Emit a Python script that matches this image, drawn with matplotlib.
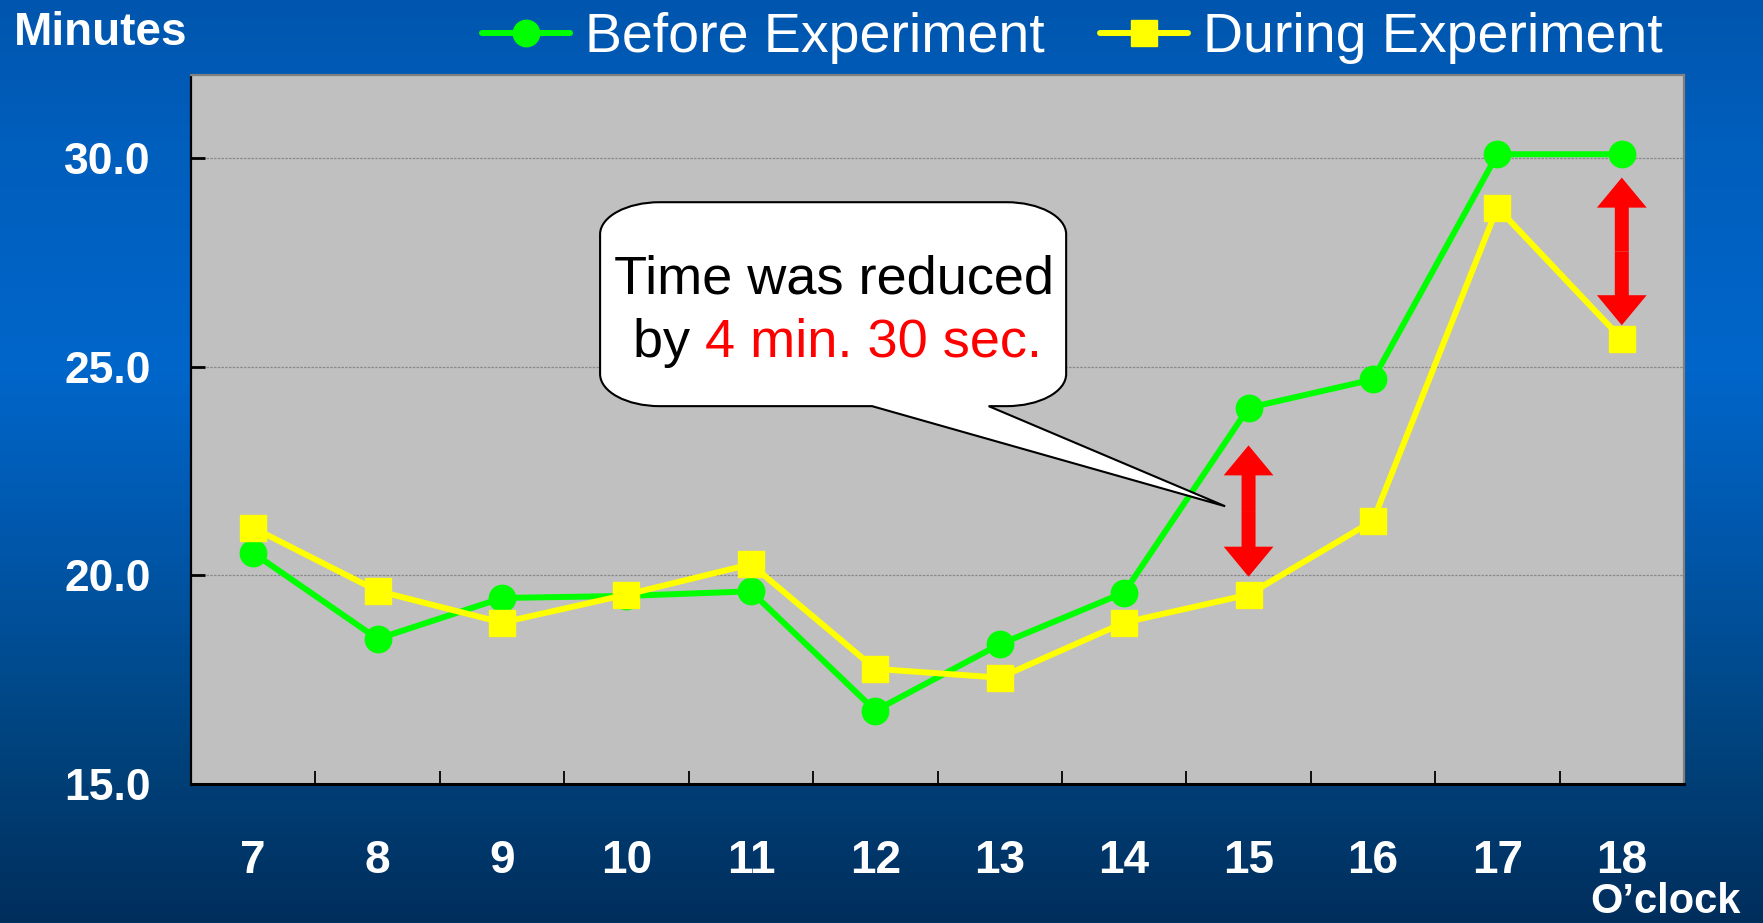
import numpy as np
import matplotlib
matplotlib.use("Agg")
import matplotlib.pyplot as plt
from matplotlib.colors import LinearSegmentedColormap
from matplotlib.path import Path
from matplotlib.patches import PathPatch, FancyArrow

# ---------------- data ----------------
hours = ["7", "8", "9", "10", "11", "12", "13", "14", "15", "16", "17", "18"]
before = [20.54, 18.48, 19.46, 19.51, 19.62, 16.76, 18.35, 19.59, 24.02, 24.70, 30.10, 30.10]
during = [21.14, 19.63, 18.87, 19.54, 20.27, 17.76, 17.55, 18.87, 19.54, 21.31, 28.82, 25.67]
yticks = [15, 20, 25, 30]
ytick_labels = ["15.0", "20.0", "25.0", "30.0"]
legend_labels = ["Before Experiment", "During Experiment"]
# red double arrows: (category index, bottom, top)
gap_arrows = [(8, 19.97, 23.12), (11, 26.0, 29.54)]

FONT = "Liberation Sans"
W, H = 1763, 923
fig = plt.figure(figsize=(W / 100, H / 100), dpi=100)

# ---------------- background gradient ----------------
bg = fig.add_axes([0, 0, 1, 1], zorder=-10)
cmap = LinearSegmentedColormap.from_list(
    "bg", [(0.0, "#002E5C"), (0.2, "#00447F"), (0.4, "#0056A8"),
           (0.6, "#0066CA"), (0.85, "#005EBC"), (1.0, "#0056AE")])
grad = np.linspace(0, 1, 256).reshape(-1, 1)
bg.imshow(grad, aspect="auto", cmap=cmap, extent=[0, 1, 0, 1], origin="lower")
bg.set_axis_off()

# ---------------- main axes ----------------
left, right, top, bottom = 191, 1684, 75, 784
ax = fig.add_axes([left / W, 1 - bottom / H, (right - left) / W, (bottom - top) / H])
ax.set_facecolor("#C0C0C0")
x = np.arange(len(hours))
ax.set_xlim(-0.5, len(hours) - 0.5)
ax.set_ylim(15, 32)

ax.plot(x, before, color="#00FF00", lw=4.3, marker="o", ms=19, mfc="#00FF00",
        mec="#00FF00", solid_capstyle="round", zorder=3, label=legend_labels[0])
ax.plot(x, during, color="#FFFF00", lw=4.3, marker="s", ms=19, mfc="#FFFF00",
        mec="#FFFF00", solid_capstyle="round", zorder=4, label=legend_labels[1])

# grid
ax.set_yticks(yticks)
ax.set_yticklabels(ytick_labels)
ax.yaxis.grid(True, linestyle=(0, (2, 1)), color="#8A8A8A", lw=0.9)
ax.set_axisbelow(True)

ax.set_xticks(x)
ax.set_xticklabels(hours)
ax.set_xticks(np.arange(0.5, len(hours) - 1, 1.0), minor=True)
ax.tick_params(axis="x", which="major", length=0, pad=39.5, labelcolor="white")
ax.tick_params(axis="x", which="minor", direction="in", length=9.5, width=1.3, color="black")
ax.tick_params(axis="y", direction="in", length=10, width=2, color="black", pad=29,
               labelcolor="white")
for lab in ax.get_xticklabels() + ax.get_yticklabels():
    lab.set_fontfamily(FONT)
    lab.set_fontweight("bold")
for lab in ax.get_xticklabels():
    lab.set_fontsize(33)
for lab in ax.get_yticklabels():
    lab.set_fontsize(32)

ax.spines["left"].set_color("black")
ax.spines["left"].set_linewidth(1.6)
ax.spines["bottom"].set_color("black")
ax.spines["bottom"].set_linewidth(2.2)
ax.spines["top"].set_color("#808080")
ax.spines["top"].set_linewidth(1.6)
ax.spines["right"].set_color("#808080")
ax.spines["right"].set_linewidth(1.6)

# ---------------- red double arrows ----------------
for xi, y0, y1 in gap_arrows:
    mid = (y0 + y1) / 2
    for end in (y0, y1):
        ax.add_patch(FancyArrow(xi, mid, 0, end - mid, width=0.1125, head_width=0.40,
                                head_length=0.72, length_includes_head=True,
                                color="#FF0000", lw=0, zorder=5))

# ---------------- callout ----------------
L, R, T, B = 2.788, 6.534, 28.95, 24.06
rx, ry = 0.48, 0.77
bx1, bx2 = 4.974, 5.911
tip = (7.812, 21.66)
k = 0.5523
verts = [
    (L + rx, T), (R - rx, T),
    (R - rx + k * rx, T), (R, T - ry + k * ry), (R, T - ry),
    (R, B + ry),
    (R, B + ry - k * ry), (R - rx + k * rx, B), (R - rx, B),
    (bx2, B), tip, (bx1, B),
    (L + rx, B),
    (L + rx - k * rx, B), (L, B + ry - k * ry), (L, B + ry),
    (L, T - ry),
    (L, T - ry + k * ry), (L + rx - k * rx, T), (L + rx, T),
    (L + rx, T),
]
codes = [Path.MOVETO, Path.LINETO,
         Path.CURVE4, Path.CURVE4, Path.CURVE4,
         Path.LINETO,
         Path.CURVE4, Path.CURVE4, Path.CURVE4,
         Path.LINETO, Path.LINETO, Path.LINETO,
         Path.LINETO,
         Path.CURVE4, Path.CURVE4, Path.CURVE4,
         Path.LINETO,
         Path.CURVE4, Path.CURVE4, Path.CURVE4,
         Path.CLOSEPOLY]
ax.add_patch(PathPatch(Path(verts, codes), facecolor="white", edgecolor="black",
                       lw=1.5, zorder=6, joinstyle="miter"))

ax.text(4.669, 26.76, "Time was reduced", fontsize=39, family=FONT, color="black",
        ha="center", va="baseline", zorder=7)
t1 = ax.text(3.05, 25.24, "by ", fontsize=39, family=FONT, color="black",
             ha="left", va="baseline", zorder=7)
ax.annotate("4 min. 30 sec.", xy=(1, 0), xycoords=t1, fontsize=39, family=FONT,
            color="#FF0000", ha="left", va="bottom", zorder=7)

# ---------------- legend & labels ----------------
fig.legend(loc="center left", bbox_to_anchor=(482 / W, 1 - 38 / H), ncol=2,
           frameon=False, borderaxespad=0, borderpad=0, handlelength=1.58,
           handletextpad=0.27, columnspacing=1.0, numpoints=1,
           prop={"family": FONT, "size": 40}, labelcolor="white")

fig.text(13.5 / W, 1 - 45 / H, "Minutes", fontsize=33, fontweight="bold", family=FONT,
         color="white", ha="left", va="baseline")
fig.text(1741 / W, 1 - 913 / H, "O\u2019clock", fontsize=30, fontweight="bold",
         family=FONT, color="white", ha="right", va="baseline")

fig.savefig("out.png", dpi=100)
